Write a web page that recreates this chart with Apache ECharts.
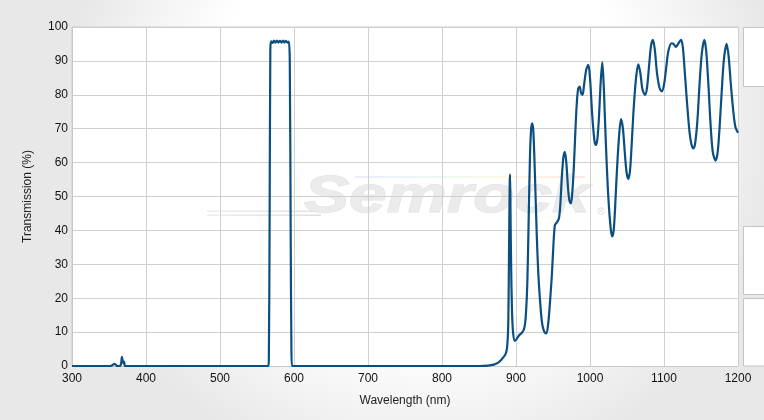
<!DOCTYPE html>
<html>
<head>
<meta charset="utf-8">
<script src="https://cdn.jsdelivr.net/npm/echarts@6/dist/echarts.min.js"></script>
<style>html,body{margin:0;padding:0;background:#fff;}#c{width:764px;height:420px;}</style>
</head>
<body>
<div id="c"></div>
<script>
// Wavelength (nm)
const wavelength = [300,352,355,357,359,361,365,366.5,367.5,368.5,369.5,370.5,371.5,375,
565,566,567,568,569,571,573,575,577,579,581,583,585,587,589,591,593,594.3,595.5,596.5,597.5,
850,862,870,876,880,883,886,888,889.5,890.5,891.5,892,892.6,893.4,894.5,896,898.5,901,904,908,911,913,915.3,917,918.9,920.5,922,923.5,925.5,928,930,932.4,935,937.5,940.5,
943,946,948.5,950.4,952.5,955,958,960,962,964,966,968,970.5,972.5,974.3,976,978,980,982,984,986,988,990,992,995,997.7,
1000,1003,1006,1008,1010,1012,1014.5,1016.6,1018.5,1020,1022.5,1025,1028,1030,1032,1034,1036,1039,1041.9,1044.5,1047,1049.5,1051.8,1054,1056,1058.6,1062,1065.3,1068,1071,1074.3,1077,1080,1082.5,1085,1087.5,1090.5,1094,1097,
1100,1103,1106,1110.4,1113,1116,1119,1123,1125.5,1128,1131,1134.5,1137,1139.8,1142,1145,1148,1151,1154.5,1157,1160,1163,1166,1169.8,1172.5,1175,1178,1181,1184.7,1187.5,1190,1193.7,1196.5,1200];
// Transmission (%)
const transmission = [0,0,0.3,0.6,0.4,0,0,1.0,2.7,1.5,0.8,1.3,0,0,
0,2,40,93,95.8,95.3,96,95.4,96,95.4,95.9,95.4,96,95.4,95.9,95.4,95.7,90,40,5,0,
0,0.1,0.4,1.0,1.8,2.6,3.6,5.5,12,32,54,56.5,45,30,17,10,7.4,8.0,9.0,9.8,11,14,24.5,42,62,70,71.6,69,57,39,28,19.5,13,10.5,9.6,
11.5,19,27,35,41.5,42.3,43.5,48,56,61.5,63.2,60,52,48.5,48,51,58,68,77,81.8,82.4,80.5,80,83,87.5,88.8,
85,74,66.5,65.2,67,73,84,89.6,83,74,60,49,40.5,38.2,40,47,56,67,72.8,70,63,57,55.2,57.5,64,74.5,84.5,89,86.5,81.5,80,82,89,94.5,96.2,93.5,86.5,82,81,
83,88,93,95.2,95,94.1,95,96.2,94,87,78,69,65.5,64.2,65.5,72,83,92,96.2,93,83,71,63,60.6,63,70,81,90.5,95,91,84,75,70.5,68.8];
const xTicks = [300,400,500,600,700,800,900,1000,1100,1200];
const yTicks = [0,10,20,30,40,50,60,70,80,90,100];

const points = wavelength.map((w, i) => [w, transmission[i]]);

const chart = echarts.init(document.getElementById('c'), null, {renderer: 'canvas'});
const font = 'Liberation Sans, Arial, sans-serif';
chart.setOption({
  animation: false,
  backgroundColor: {
    type: 'radial', x: 0.55, y: 0.3, r: 0.85,
    colorStops: [{offset: 0, color: '#ffffff'}, {offset: 0.6, color: '#ffffff'}, {offset: 1, color: '#e8e8e8'}]
  },
  grid: {left: 72, right: 26, top: 27, bottom: 54, show: true, backgroundColor: 'rgba(0,0,0,0)', borderColor: '#cccccc', borderWidth: 1},
  graphic: [
    {type: 'rect', z: 0, shape: {x: 72, y: 27, width: 666, height: 339}, style: {fill: '#ffffff'}},
    {type: 'rect', z: 0, shape: {x: 743.5, y: 27.5, width: 30, height: 59}, style: {fill: '#ffffff', stroke: '#c4c4c4', lineWidth: 1}},
    {type: 'rect', z: 0, shape: {x: 743.5, y: 226.5, width: 30, height: 68}, style: {fill: '#ffffff', stroke: '#c4c4c4', lineWidth: 1}},
    {type: 'rect', z: 0, shape: {x: 743.5, y: 298.5, width: 30, height: 67.5}, style: {fill: '#ffffff', stroke: '#c4c4c4', lineWidth: 1}},
    {type: 'rect', z: 0, z2: 1, shape: {x: 207, y: 210.5, width: 122, height: 1.5},
      style: {fill: {type: 'linear', x: 0, y: 0, x2: 1, y2: 0, colorStops: [{offset: 0, color: '#eeeeee'}, {offset: 1, color: '#dedede'}]}}},
    {type: 'rect', z: 0, z2: 1, shape: {x: 207, y: 214.5, width: 114, height: 1.5},
      style: {fill: {type: 'linear', x: 0, y: 0, x2: 1, y2: 0, colorStops: [{offset: 0, color: '#eeeeee'}, {offset: 1, color: '#dedede'}]}}},
    {type: 'rect', z: 0, z2: 1, shape: {x: 355, y: 176, width: 230, height: 2},
      style: {fill: {type: 'linear', x: 0, y: 0, x2: 1, y2: 0, colorStops: [
        {offset: 0, color: 'rgba(200,200,255,0.35)'}, {offset: 0.35, color: 'rgba(190,240,220,0.35)'},
        {offset: 0.65, color: 'rgba(255,240,180,0.4)'}, {offset: 1, color: 'rgba(255,190,190,0.4)'}]}}},
    {type: 'text', z: 0, z2: 2, x: 304, y: 198, scaleX: 1.3,
      style: {text: 'Semrock', font: 'italic bold 52px Liberation Sans, Arial, sans-serif', verticalAlign: 'middle', fill: '#ebebeb', stroke: '#e0e0e0', lineWidth: 1}},
    {type: 'text', z: 0, z2: 2, x: 597, y: 212, style: {text: '®', font: '11px Liberation Sans, Arial, sans-serif', verticalAlign: 'middle', fill: '#dddddd'}}
  ],
  xAxis: {
    type: 'value', min: 300, max: 1200, interval: 100, z: 2,
    name: 'Wavelength (nm)', nameLocation: 'middle', nameGap: 29,
    nameTextStyle: {color: '#222', fontSize: 12, fontFamily: font},
    axisLine: {show: true, lineStyle: {color: '#c8c8c8', width: 1}},
    axisTick: {show: false},
    axisLabel: {color: '#111', fontSize: 12, fontFamily: font, margin: 7,
      formatter: v => xTicks.includes(v) ? String(v) : ''},
    splitLine: {show: true, lineStyle: {color: '#d0d0d0', width: 1}}
  },
  yAxis: {
    type: 'value', min: 0, max: 100, interval: 10, z: 2,
    name: 'Transmission (%)', nameLocation: 'middle', nameGap: 38, nameRotate: 90,
    nameTextStyle: {color: '#222', fontSize: 12, fontFamily: font},
    axisLine: {show: true, lineStyle: {color: '#c8c8c8', width: 1}},
    axisTick: {show: false},
    axisLabel: {color: '#111', fontSize: 12, fontFamily: font, margin: 4,
      formatter: v => yTicks.includes(v) ? String(v) : ''},
    splitLine: {show: true, lineStyle: {color: '#d0d0d0', width: 1}}
  },
  series: [{
    type: 'line', data: points, showSymbol: false, smooth: 0.3, clip: true,
    lineStyle: {color: '#0b4f80', width: 2.2}, z: 3
  }]
});
</script>
</body>
</html>
